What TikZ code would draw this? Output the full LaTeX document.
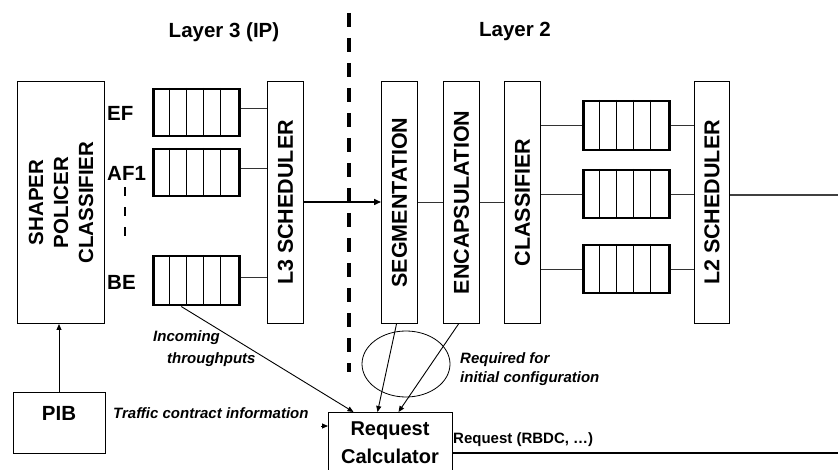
\documentclass[tikz,border=0pt]{standalone}
\usepackage{fontspec}
\setmainfont{Liberation Sans}
\usetikzlibrary{arrows.meta,shapes.geometric}
\begin{document}
\begin{tikzpicture}[x=1pt,y=-1pt,
  blk/.style={draw, line width=1pt, inner sep=0pt, anchor=north west},
  qbox/.style={draw, line width=2.5pt, inner sep=0pt, anchor=north west, minimum width=86pt},
  vlab/.style={rotate=90, font=\fontsize{21.5}{25}\selectfont\bfseries, align=center, inner sep=0pt},
  lab/.style={font=\fontsize{20.5}{24}\selectfont\bfseries, inner sep=0pt},
  ilab/.style={font=\fontsize{15}{18}\selectfont\bfseries\itshape, inner sep=0pt, anchor=west},
  conn/.style={line width=0.9pt, draw=black!80},
  arr/.style={line width=0.9pt, -{Triangle[length=6pt,width=5pt]}},
  sep/.style={line width=4pt, dash pattern=on 14pt off 11pt},
]
\clip (0,0) rectangle (838,470);
\fill[white] (0,0) rectangle (838,470);

% headings
\node[lab] at (224,32) {Layer 3 (IP)};
\node[lab] at (515,31) {Layer 2};

% boxes
\node[blk, minimum width=87pt, minimum height=242pt] (shaper) at (17,81) {};
\node[vlab, font=\fontsize{20.5}{25}\selectfont\bfseries] at (shaper.center) {SHAPER\\POLICER\\CLASSIFIER};
\node[blk, minimum width=36pt, minimum height=242pt] (l3s) at (267,81) {};
\node[vlab] at (l3s.center) {L3 SCHEDULER};
\node[blk, minimum width=36pt, minimum height=242pt] (seg) at (381,81) {};
\node[vlab] at (seg.center) {SEGMENTATION};
\node[blk, minimum width=36pt, minimum height=242pt] (enc) at (443,81) {};
\node[vlab] at (enc.center) {ENCAPSULATION};
\node[blk, minimum width=36pt, minimum height=242pt] (cls) at (504,81) {};
\node[vlab] at (cls.center) {CLASSIFIER};
\node[blk, minimum width=35pt, minimum height=242pt] (l2s) at (694,81) {};
\node[vlab] at (l2s.center) {L2 SCHEDULER};
\node[blk, minimum width=92pt, minimum height=61pt] (pib) at (13,392) {};
\node[lab] at (59,413) {PIB};
\node[blk, minimum width=124pt, minimum height=72pt] (rc) at (328,412) {};
\node[lab, align=center, font=\fontsize{20}{28}\selectfont\bfseries] at (390,443) {Request\\Calculator};

% class labels
\node[lab, anchor=west] at (107,113) {EF};
\node[lab, anchor=west] at (107,173) {AF1};
\node[lab, anchor=west] at (107,282) {BE};
\draw[line width=2.5pt, dash pattern=on 9pt off 11pt] (125,187) -- (125,242);

% queues
\foreach \n/\x/\y/\h in {qEF/152/88/47, qAF/152/148/47, qBE/152/255/49,
                          qA/582/100/49, qB/582/169/48, qC/582/244/48}{
  \node[qbox, minimum height=\h pt] (\n) at (\x,\y) {};
  \foreach \i in {1,...,4}
    \draw[line width=1.3pt] ([xshift=\i*17.2pt]\n.north west) -- ([xshift=\i*17.2pt]\n.south west);
}

% L3 connectors
\coordinate (e1) at ([yshift=4pt]qEF.east);
\coordinate (e2) at ([yshift=4pt]qAF.east);
\coordinate (e3) at ([yshift=3pt]qBE.east);
\coordinate (m) at (0,202);
\draw[conn] (e1) -- (l3s.west |- e1);
\draw[conn] (e2) -- (l3s.west |- e2);
\draw[conn] (e3) -- (l3s.west |- e3);
\draw[line width=1.5pt, -{Triangle[length=7pt,width=6pt]}] (l3s.east |- m) -- (seg.west |- m);
\draw[conn] (seg.east |- m) -- (enc.west |- m);
\draw[conn] (enc.east |- m) -- (cls.west |- m);

% L2 connectors
\foreach \n in {qA,qB,qC}{
  \draw[conn] (cls.east |- \n.east) -- (\n.west);
  \draw[conn] (\n.east) -- (l2s.west |- \n.east);
}
\coordinate (out2) at (838,195);
\draw[line width=1.4pt, draw=black!75] (l2s.east |- out2) -- (out2);

% separator
\draw[sep] (349,13) -- (349,372);

% lower part
\coordinate (px) at (59,0);
\draw[arr] (pib.north -| px) -- (shaper.south -| px);
\coordinate (tci) at (321,426);
\draw[arr] (tci) -- (rc.west |- tci);
\draw[arr] ([xshift=-15pt]qBE.south) -- ([xshift=-37pt]rc.north);
\draw[arr] ([xshift=-3pt]seg.south) -- ([xshift=-13pt]rc.north);
\draw[arr] ([xshift=-3pt]enc.south) -- ([xshift=8pt]rc.north);
\node[draw, line width=0.8pt, ellipse, minimum width=88pt, minimum height=66pt, inner sep=0pt] (cfg) at (406,364) {};

\node[ilab] at (153,338) {Incoming};
\node[ilab] at (167,360) {throughputs};
\node[ilab] at (113,413) {Traffic contract information};
\node[ilab] at (460,360) {Required for};
\node[ilab] at (460,379) {initial configuration};
\node[anchor=west, inner sep=0pt, font=\fontsize{15}{18}\selectfont\bfseries] at (453,440) {Request (RBDC, …)};
\coordinate (out1) at (838,453);
\draw[line width=1.4pt] (rc.east |- out1) -- (out1);
\end{tikzpicture}
\end{document}
